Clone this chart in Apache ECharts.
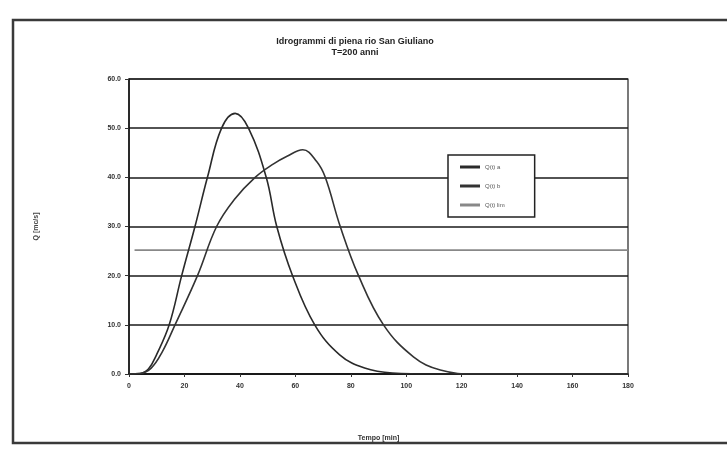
<!DOCTYPE html>
<html>
<head>
<meta charset="utf-8">
<script src="https://cdn.jsdelivr.net/npm/echarts@6/dist/echarts.min.js"></script>
<style>
html,body{margin:0;padding:0;background:#fff;}
#chart{width:727px;height:453px;}
</style>
</head>
<body>
<div id="chart"></div>
<script>
const titleText = "Idrogrammi di piena rio San Giuliano";
const subtitleText = "T=200 anni";
const xAxisName = "Tempo [min]";
const yAxisName = "Q [mc/s]";
const seriesNames = ["Q(t) a", "Q(t) b", "Q(t) lim"];

const time1 = [0, 4, 7, 10, 14.5, 19, 23.8, 28.3, 33.4, 38.3, 43.1, 49.5, 53.3, 59, 67, 76, 85, 95, 110, 130, 180];
const flow1 = [0, 0.1, 1, 4, 10, 20, 30, 40, 50, 53, 50, 40, 30, 20, 10, 3.9, 1.2, 0.2, 0, 0, 0];

const time2 = [0, 4, 8, 12, 16.6, 24.7, 31.6, 38, 45.5, 52, 57, 62.7, 67.7, 70.8, 76.2, 82.8, 91.8, 102.6, 112.3, 125, 180];
const flow2 = [0, 0.1, 1.2, 4.5, 10, 20, 30, 35.5, 40, 42.7, 44.3, 45.6, 43.2, 40, 30, 20, 10, 3.5, 0.8, 0, 0];

const time3 = [2, 180];
const flow3 = [25.2, 25.2];

const xTicks = [0, 20, 40, 60, 80, 100, 120, 140, 160, 180];
const yTicks = [0, 10, 20, 30, 40, 50, 60];

const pairs = (t, q) => t.map((v, i) => [v, q[i]]);
const FONT = "Liberation Sans";

const chart = echarts.init(document.getElementById('chart'));
chart.setOption({
  animation: false,
  backgroundColor: '#fff',
  graphic: [{
    type: 'rect',
    shape: {x: 13, y: 20, width: 730, height: 423},
    style: {fill: 'none', stroke: '#3a3a3a', lineWidth: 2.5},
    z: 100
  }],
  title: {
    text: titleText + "\n" + subtitleText,
    left: 350, top: 31, textAlign: 'center',
    textStyle: {fontFamily: FONT, fontSize: 9, fontWeight: 'bold', color: '#222', lineHeight: 11}
  },
  legend: {
    orient: 'vertical',
    left: 448, top: 155,
    padding: [9, 30, 9, 12],
    itemGap: 13,
    itemWidth: 20, itemHeight: 3,
    backgroundColor: '#fff',
    borderColor: '#222', borderWidth: 1.5,
    data: seriesNames.map(n => ({name: n, icon: 'rect'})),
    textStyle: {fontFamily: FONT, fontSize: 6, color: '#555'}
  },
  grid: {
    left: 129, right: 99, top: 79, bottom: 79,
    show: true, borderColor: '#222', borderWidth: 1.2, backgroundColor: 'transparent'
  },
  xAxis: {
    type: 'value', min: 0, max: 180, interval: 20,
    name: xAxisName, nameLocation: 'middle', nameGap: 61,
    nameTextStyle: {fontFamily: FONT, fontSize: 7, fontWeight: 'bold', color: '#333'},
    axisLine: {show: true, lineStyle: {color: '#111', width: 1.5}},
    axisTick: {show: true, length: 3, lineStyle: {color: '#333'}},
    axisLabel: {fontFamily: FONT, fontSize: 7, fontWeight: 'bold', color: '#333', margin: 9,
      formatter: v => xTicks.includes(v) ? String(v) : ''},
    splitLine: {show: false}
  },
  yAxis: {
    type: 'value', min: 0, max: 60, interval: 10,
    name: yAxisName, nameLocation: 'middle', nameGap: 89, nameRotate: 90,
    nameTextStyle: {fontFamily: FONT, fontSize: 7, fontWeight: 'bold', color: '#444'},
    axisLine: {show: true, lineStyle: {color: '#111', width: 1.5}},
    axisTick: {show: true, length: 4, lineStyle: {color: '#333'}},
    axisLabel: {fontFamily: FONT, fontSize: 7, fontWeight: 'bold', color: '#333', margin: 8,
      formatter: v => yTicks.includes(v) ? v.toFixed(1) : ''},
    splitLine: {show: true, lineStyle: {color: '#1a1a1a', width: 1.6}}
  },
  series: [
    {name: seriesNames[0], type: 'line', data: pairs(time1, flow1), showSymbol: false,
      smooth: 0.4, lineStyle: {color: '#2a2a2a', width: 1.6}, itemStyle: {color: '#2a2a2a'}, z: 3},
    {name: seriesNames[1], type: 'line', data: pairs(time2, flow2), showSymbol: false,
      smooth: 0.4, lineStyle: {color: '#333', width: 1.6}, itemStyle: {color: '#333'}, z: 3},
    {name: seriesNames[2], type: 'line', data: pairs(time3, flow3), showSymbol: false,
      lineStyle: {color: '#888', width: 1.6}, itemStyle: {color: '#888'}, z: 2}
  ]
});
</script>
</body>
</html>
